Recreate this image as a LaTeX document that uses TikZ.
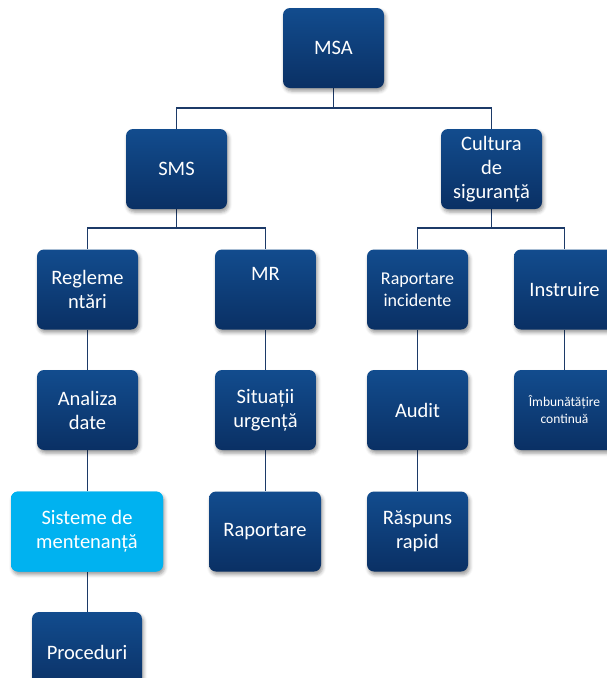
\documentclass[tikz,border=0pt]{standalone}
\usepackage{fontspec}
\setmainfont{Carlito}
\usetikzlibrary{shadows.blur,backgrounds}

\definecolor{boxtop}{RGB}{18,76,142}
\definecolor{boxbot}{RGB}{10,48,100}
\definecolor{lightbox}{RGB}{0,178,240}
\definecolor{linkcol}{RGB}{28,58,104}

\tikzset{
  orgbox/.style={
    rectangle, rounded corners=7pt,
    minimum width=101pt, minimum height=80pt,
    inner sep=2pt, align=center, text=white,
    top color=boxtop, bottom color=boxbot, draw=none,
    font=\fontsize{20.5}{24}\selectfont,
    blur shadow={shadow xshift=1.5pt, shadow yshift=-3pt,
                 shadow blur radius=3.5pt, shadow opacity=40}
  },
  hilite/.style={fill=lightbox, top color=lightbox, bottom color=lightbox},
  boxtext/.style={text=white, inner sep=0pt, font=\fontsize{20.5}{24}\selectfont},
  link/.style={draw=linkcol, line width=1.7pt}
}

\begin{document}
\begin{tikzpicture}[x=1pt, y=-1pt]
\useasboundingbox (0,0) rectangle (606,678);

% top
\node[orgbox] (msa) at (333.5,48) {MSA};

% first level
\node[orgbox] (sms) at (176.5,169) {SMS};
\node[orgbox] (cult) at (491.5,169) {Cultura\\de\\siguranță};

% second level
\node[orgbox] (regl) at (87.5,289.5) {Regleme\\ntări};
\node[orgbox] (mr) at (265.5,289.5) {};
\node[boxtext] (mrtext) at (265.5,274) {MR};
\node[orgbox, font=\fontsize{18}{22}\selectfont] (rapinc) at (417.5,289.5) {Raportare\\incidente};
\node[orgbox] (instr) at (564.5,289.5) {Instruire};

% third level
\node[orgbox] (anal) at (87.5,410) {Analiza\\date};
\node[orgbox] (situ) at (265.5,410) {Situații\\urgență};
\node[orgbox] (audit) at (417.5,410) {Audit};
\node[orgbox, font=\fontsize{13.5}{17}\selectfont] (imbun) at (564.5,410) {Îmbunătățire\\continuă};

% fourth level
\node[orgbox, hilite, minimum width=152pt] (sist) at (87,531.5) {Sisteme de\\mentenanță};
\node[orgbox, minimum width=112pt] (rap) at (265,531.5) {Raportare};
\node[orgbox] (rasp) at (417.5,531.5) {Răspuns\\rapid};

% fifth level
\node[orgbox, minimum width=110pt] (proc) at (87,652) {Proceduri};

% connectors
\begin{scope}[on background layer]
  \draw[link] (msa.south) -- ++(0,20) -| (sms.north);
  \draw[link] (msa.south) -- ++(0,20) -| (cult.north);
  \draw[link] (sms.south) -- ++(0,19) -| (regl.north);
  \draw[link] (sms.south) -- ++(0,19) -| (mr.north);
  \draw[link] (cult.south) -- ++(0,19) -| (rapinc.north);
  \draw[link] (cult.south) -- ++(0,19) -| (instr.north);
  \draw[link] (regl.south) -- (anal.north);
  \draw[link] (anal.south) -- (sist.north -| anal.south);
  \draw[link] (sist.south -| anal.south) -- (proc.north -| anal.south);
  \draw[link] (mr.south) -- (situ.north);
  \draw[link] (situ.south) -- (rap.north -| situ.south);
  \draw[link] (rapinc.south) -- (audit.north);
  \draw[link] (audit.south) -- (rasp.north);
  \draw[link] (instr.south) -- (imbun.north);
\end{scope}
\end{tikzpicture}
\end{document}
